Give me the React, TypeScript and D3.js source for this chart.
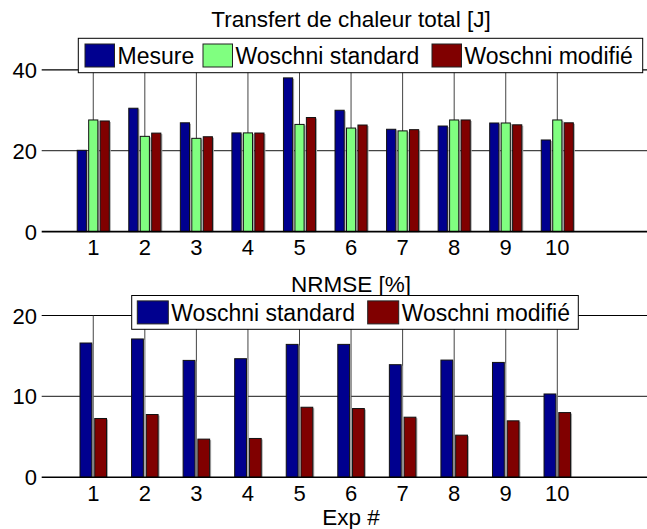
import React from "react";
import * as d3 from "d3";

const categories = [1, 2, 3, 4, 5, 6, 7, 8, 9, 10];
const mesure = [20.1, 30.5, 26.9, 24.4, 38.0, 30.0, 25.3, 26.1, 26.85, 22.65];
const woschniStandard = [27.6, 23.55, 23.06, 24.4, 26.5, 25.6, 24.9, 27.6, 26.85, 27.6];
const woschniModifie = [27.35, 24.35, 23.45, 24.37, 28.2, 26.35, 25.2, 27.6, 26.4, 26.9];
const nrmseStandard = [16.6, 17.1, 14.45, 14.66, 16.43, 16.43, 13.92, 14.49, 14.2, 10.3];
const nrmseModifie = [7.27, 7.76, 4.72, 4.8, 8.66, 8.5, 7.43, 5.21, 6.98, 8.0];
const topTicks = [0, 20, 40];
const bottomTicks = [0, 10, 20];
const topTitle = "Transfert de chaleur total [J]";
const bottomTitle = "NRMSE [%]";
const xLabel = "Exp #";
const topNames = ["Mesure", "Woschni standard", "Woschni modifié"];
const bottomNames = ["Woschni standard", "Woschni modifié"];

const W = 647;
const H = 529;
const FONT = "'Liberation Sans', Arial, Helvetica, sans-serif";
const BLUE = "#00008F";
const GREEN = "#80FF80";
const RED = "#800000";

const x = d3.scaleLinear().domain([0, 12]).range([41.7, 41.7 + 12 * 51.56]);

type PanelProps = {
  series: number[][];
  colors: string[];
  yMax: number;
  ticks: number[];
  yTop: number;
  yBottom: number;
  title: string;
  titleY: number;
};

function Panel({ series, colors, yMax, ticks, yTop, yBottom, title, titleY }: PanelProps) {
  const y = d3.scaleLinear().domain([0, yMax]).range([yBottom, yTop]);
  const n = series.length;
  const groupW = Math.min(0.8, n / (n + 1.5));
  const step = groupW / n;
  const barW = step * 0.8;
  const x0 = x.range()[0];
  return (
    <g>
      <text x={351} y={titleY} fontSize={22.5} textAnchor="middle" fontFamily={FONT}>
        {title}
      </text>
      {ticks.filter((t) => t !== 0).map((t) => (
        <line key={"h" + t} x1={x0} x2={W} y1={y(t)} y2={y(t)} stroke={t === yMax ? "#000" : "#444"} strokeWidth={1.2} />
      ))}
      {categories.map((c) => (
        <line key={"v" + c} x1={x(c)} x2={x(c)} y1={y(yMax)} y2={y(0)} stroke="#444" strokeWidth={1} />
      ))}
      {series.map((vals, si) =>
        vals.map((v, i) => {
          const cx = categories[i] + (si - (n - 1) / 2) * step;
          const xl = x(cx - barW / 2);
          const xr = x(cx + barW / 2);
          return (
            <g key={si + "-" + i}>
              <rect x={xr} y={y(v) + 1} width={1.5} height={y(0) - y(v) - 1} fill="#aaa" />
              <rect x={xl} y={y(v)} width={xr - xl} height={y(0) - y(v)} fill={colors[si]} stroke="#111" strokeWidth={1} />
            </g>
          );
        })
      )}
      <line x1={x0} x2={W} y1={y(0)} y2={y(0)} stroke="#000" strokeWidth={1.6} />
      {ticks.map((t) => (
        <text key={"yl" + t} x={37} y={y(t) + 8} fontSize={22} textAnchor="end" fontFamily={FONT}>
          {t}
        </text>
      ))}
      {categories.map((c) => (
        <text key={"xl" + c} x={x(c)} y={y(0) + 23.5} fontSize={22} textAnchor="middle" fontFamily={FONT}>
          {c}
        </text>
      ))}
    </g>
  );
}

type LegendProps = {
  names: string[];
  colors: string[];
  box: [number, number, number, number];
  swatchX: number[];
  swatchW: number;
};

function Legend({ names, colors, box, swatchX, swatchW }: LegendProps) {
  const [bx, by, bw, bh] = box;
  const sh = 23;
  const sy = by + (bh - sh) / 2;
  return (
    <g>
      <rect x={bx} y={by} width={bw} height={bh} fill="#fff" stroke="#000" strokeWidth={1} />
      {names.map((nm, i) => (
        <g key={nm}>
          <rect x={swatchX[i]} y={sy} width={swatchW} height={sh} fill={colors[i]} stroke="#222" strokeWidth={1} />
          <text x={swatchX[i] + swatchW + 3} y={by + bh / 2 + 8.3} fontSize={23} fontFamily={FONT}>
            {nm}
          </text>
        </g>
      ))}
    </g>
  );
}

export default function App() {
  return (
    <svg width={W} height={H} style={{ position: "absolute", left: 0, top: 0, background: "#fff" }}>
      <rect x={0} y={0} width={W} height={H} fill="#fff" />
      <Panel
        series={[mesure, woschniStandard, woschniModifie]}
        colors={[BLUE, GREEN, RED]}
        yMax={40}
        ticks={topTicks}
        yTop={69.8}
        yBottom={231.6}
        title={topTitle}
        titleY={27}
      />
      <Legend
        names={topNames}
        colors={[BLUE, GREEN, RED]}
        box={[78.3, 38.3, 564.4, 34.4]}
        swatchX={[85, 203, 432]}
        swatchW={29.5}
      />
      <Panel
        series={[nrmseStandard, nrmseModifie]}
        colors={[BLUE, RED]}
        yMax={20}
        ticks={bottomTicks}
        yTop={315.5}
        yBottom={477.3}
        title={bottomTitle}
        titleY={292}
      />
      <Legend
        names={bottomNames}
        colors={[BLUE, RED]}
        box={[131.7, 295.5, 446.6, 33.8]}
        swatchX={[137.3, 367.7]}
        swatchW={31}
      />
      <text x={351} y={525} fontSize={22.5} textAnchor="middle" fontFamily={FONT}>
        {xLabel}
      </text>
    </svg>
  );
}
